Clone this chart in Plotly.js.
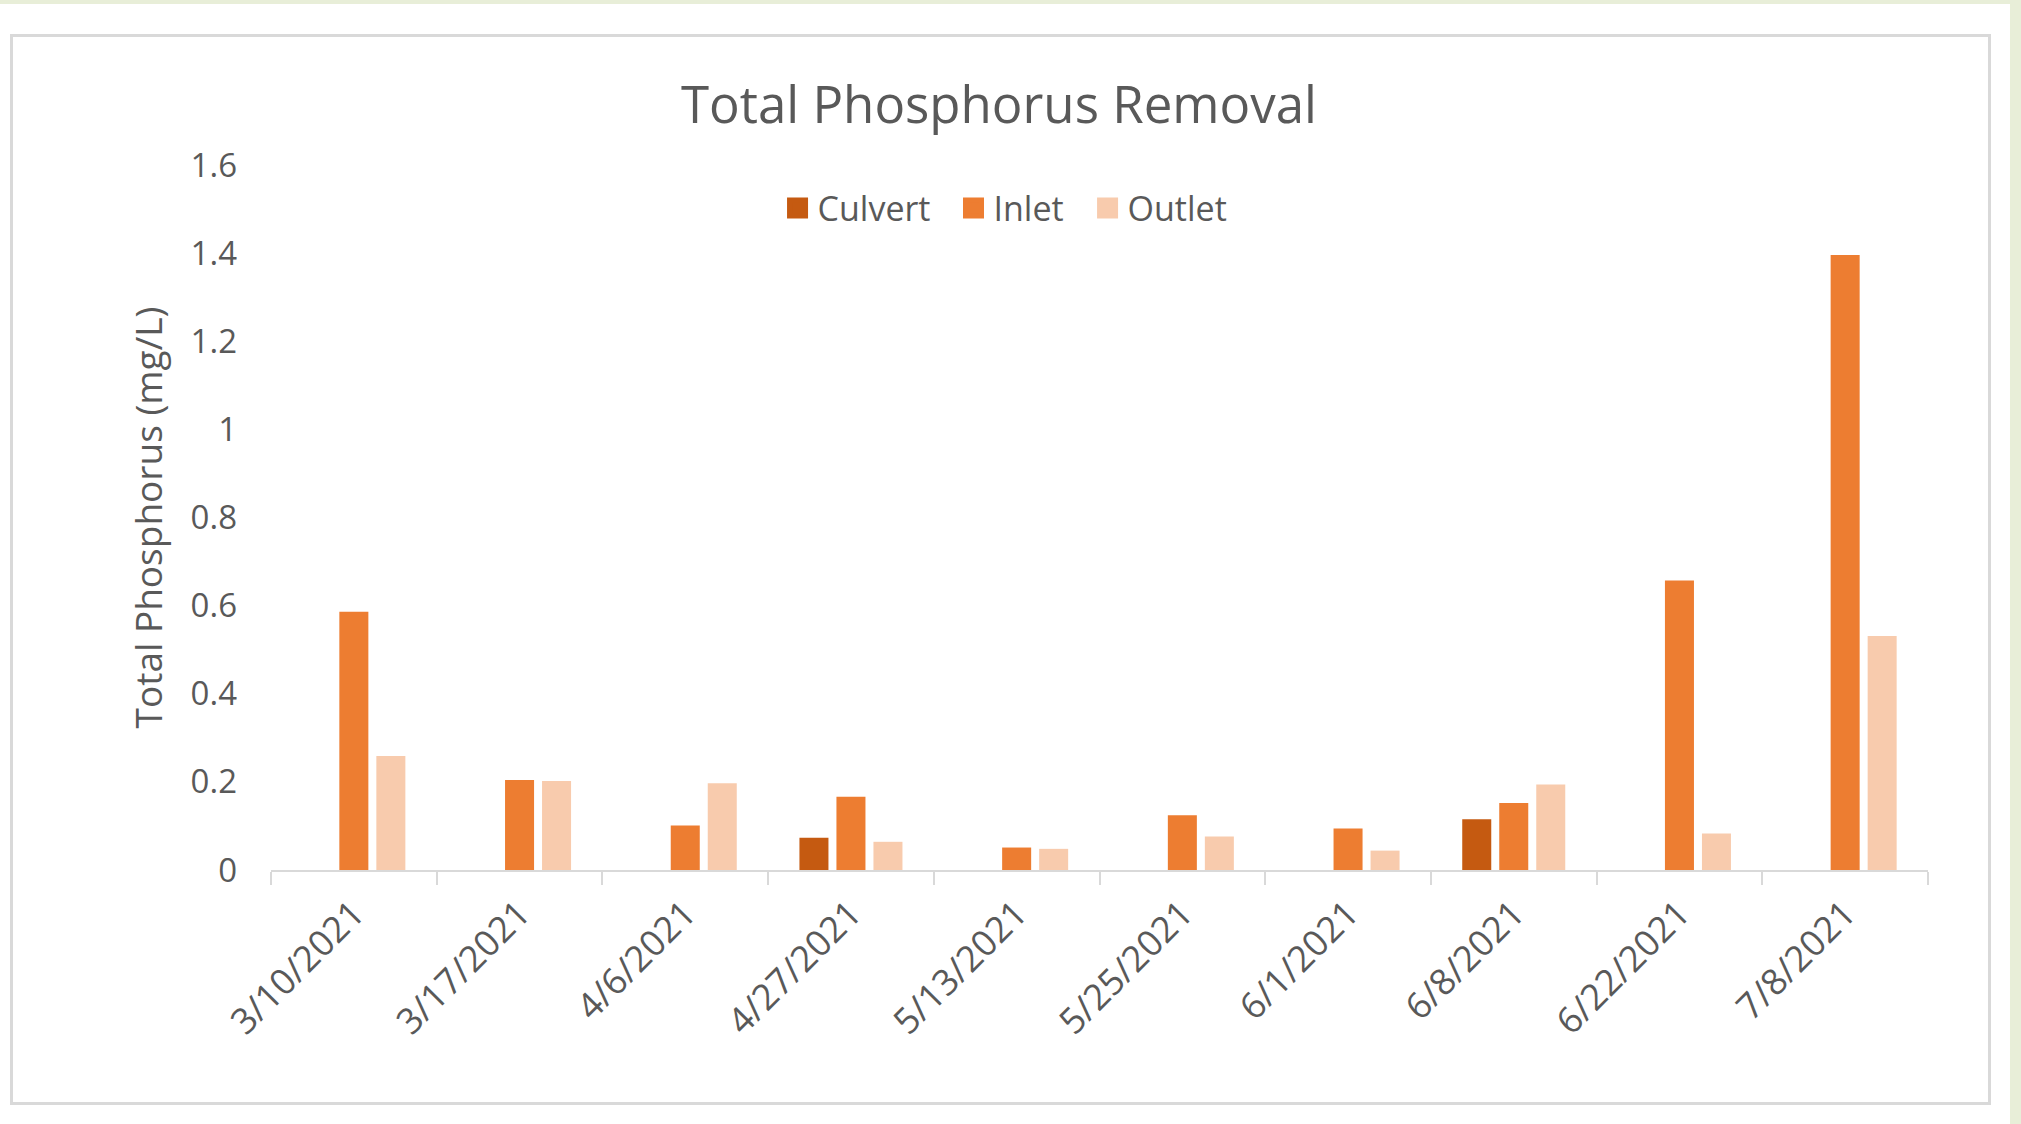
<!DOCTYPE html>
<html>
<head>
<meta charset="utf-8">
<script src="https://cdn.plot.ly/plotly-3.0.1.min.js"></script>
<style>
  html, body { margin: 0; padding: 0; }
  body { width: 2021px; height: 1124px; background: #e8eed8; position: relative; overflow: hidden; }
  #sheet { position: absolute; left: 0; top: 4px; width: 2010px; height: 1120px; background: #ffffff; }
  #chart { position: absolute; left: 0; top: 4px; width: 2010px; height: 1120px; }
  #frame { position: absolute; left: 10px; top: 34px; width: 1981px; height: 1071px;
           border: 3px solid #d9d9d9; box-sizing: border-box; pointer-events: none; }
</style>
</head>
<body>
<div id="sheet"></div>
<div id="chart"></div>
<div id="frame"></div>
<script>
// ---- data ----
const dates = ["3/10/2021", "3/17/2021", "4/6/2021", "4/27/2021", "5/13/2021",
               "5/25/2021", "6/1/2021", "6/8/2021", "6/22/2021", "7/8/2021"];
const culvert = [null, null, null, 0.073, null, null, null, 0.115, null, null];
const inlet   = [0.586, 0.204, 0.101, 0.166, 0.051, 0.124, 0.094, 0.152, 0.657, 1.396];
const outlet  = [0.259, 0.202, 0.197, 0.064, 0.048, 0.076, 0.044, 0.194, 0.083, 0.531];
const seriesNames = ["Culvert", "Inlet", "Outlet"];
const yTicks = [0, 0.2, 0.4, 0.6, 0.8, 1, 1.2, 1.4, 1.6];

const colors = ["#c55a11", "#ed7d31", "#f8cbad"];
const textColor = "#595959";
const fontFam = "'Open Sans', 'Noto Sans', sans-serif";
const seriesVals = [culvert, inlet, outlet];
const legendIds = ["legend", "legend2", "legend3"];
const legendX = [0.3057, 0.4119, 0.4928];

const traces = [];
seriesVals.forEach((vals, i) => {
  traces.push({
    type: "bar", name: seriesNames[i], x: dates, y: vals,
    marker: { color: colors[i] }, showlegend: false, legendgroup: seriesNames[i],
    hoverinfo: "x+y+name"
  });
});
// legend entries (bigger square swatches, like the reference)
seriesNames.forEach((n, i) => {
  traces.push({
    type: "scatter", mode: "markers", name: n, x: [null], y: [null],
    legendgroup: n, showlegend: true, legend: legendIds[i],
    marker: { symbol: "square", size: 16, color: colors[i], line: { width: 5, color: colors[i] } }
  });
});

const layout = {
  width: 2010, height: 1120,
  paper_bgcolor: "rgba(0,0,0,0)", plot_bgcolor: "rgba(0,0,0,0)",
  margin: { l: 271, r: 82, t: 161, b: 254 },
  font: { family: fontFam, color: textColor },
  title: {
    text: "Total Phosphorus Removal",
    font: { family: fontFam, size: 51, color: textColor },
    xref: "container", x: 0.497, xanchor: "center",
    yref: "container", y: 0.91, yanchor: "middle"
  },
  barmode: "group", bargap: 0.33, bargroupgap: 0.216,
  showlegend: true,
  xaxis: {
    type: "category", categoryorder: "array", categoryarray: dates,
    showline: true, linecolor: "#d9d9d9", linewidth: 2,
    ticks: "outside", tickson: "boundaries", ticklen: 13, tickwidth: 2, tickcolor: "#d9d9d9",
    tickangle: -45, ticklabelstandoff: 6,
    tickfont: { family: fontFam, size: 36, color: textColor },
    showgrid: false, zeroline: false, fixedrange: true
  },
  yaxis: {
    range: [0, 1.6], tickvals: yTicks, ticktext: yTicks.map(v => String(v)),
    showgrid: false, zeroline: false, showline: false, ticks: "",
    ticklabelstandoff: 33,
    tickfont: { family: fontFam, size: 33, color: textColor },
    title: { text: "Total Phosphorus (mg/L)", font: { family: fontFam, size: 37, color: textColor }, standoff: 16 },
    fixedrange: true
  }
};
legendIds.forEach((id, i) => {
  layout[id] = {
    orientation: "h", xref: "paper", yref: "paper",
    x: legendX[i], xanchor: "left", y: 0.9383, yanchor: "middle",
    font: { family: fontFam, size: 34, color: textColor },
    bgcolor: "rgba(0,0,0,0)", borderwidth: 0
  };
});

Plotly.newPlot("chart", traces, layout, { displayModeBar: false, staticPlot: true });
</script>
</body>
</html>
